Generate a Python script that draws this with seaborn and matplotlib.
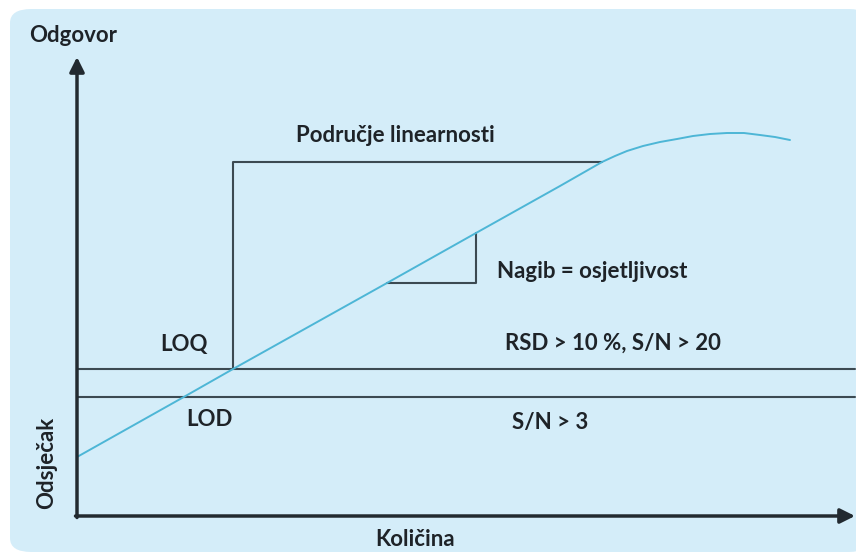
import matplotlib
matplotlib.use("Agg")
import matplotlib.pyplot as plt
from matplotlib.patches import FancyBboxPatch
import seaborn as sns

# curve (kolicina vs odgovor)
kolicina = [0, 105, 156, 310, 399, 483, 525, 538, 550, 566, 583, 600, 616, 633, 650, 667, 683, 698, 713]
odgovor = [59, 118, 147, 233, 283, 330, 354, 360, 365, 370, 374, 377, 380, 382, 383, 383, 381, 379, 376]

loq_level = 147
lod_level = 119
linear_top = 354
linear_start = 156
linear_end = 525
slope_x = [310, 399]
slope_y = [233, 283]

x_max = 778
y_max = 459

bg = "#d4edf9"
curve_col = "#4db6d6"
line_col = "#3c4a52"
axis_col = "#222a30"

sns.set_style("white")
plt.rcParams["font.family"] = ["Lato", "DejaVu Sans"]

fig = plt.figure(figsize=(8.56, 5.57), dpi=100)
fig.patch.set_facecolor("white")

ax = fig.add_axes([0, 0, 1, 1])
ax.set_facecolor("none")
ax.set_xlim(-77, 779)
ax.set_ylim(-41, 516)
ax.axis("off")

# rounded light blue background
box = FancyBboxPatch((10 / 856, 5 / 557), 860 / 856, 543 / 557,
                     boxstyle="round,pad=0,rounding_size=0.025",
                     transform=fig.transFigure, facecolor=bg, edgecolor="none",
                     zorder=0, clip_on=False)
ax.add_patch(box)

# horizontal LOQ / LOD lines
ax.plot([0, x_max], [loq_level, loq_level], color=line_col, lw=1.5, zorder=2)
ax.plot([0, x_max], [lod_level, lod_level], color=line_col, lw=1.5, zorder=2)
# linear range bracket
ax.plot([linear_start, linear_start, linear_end], [loq_level, linear_top, linear_top],
        color=line_col, lw=1.5, zorder=2)
# slope triangle
ax.plot([slope_x[0], slope_x[1], slope_x[1]], [slope_y[0], slope_y[0], slope_y[1]],
        color=line_col, lw=1.5, zorder=2)

sns.lineplot(x=kolicina, y=odgovor, ax=ax, color=curve_col, lw=1.4, zorder=3)

# axes with arrows
arrow = dict(arrowstyle="-|>", color=axis_col, lw=2.5, mutation_scale=22, shrinkA=0, shrinkB=0)
ax.annotate("", xy=(0, y_max), xytext=(0, -1.5), arrowprops=arrow, zorder=4)
ax.annotate("", xy=(x_max, 0), xytext=(-1.5, 0), arrowprops=arrow, zorder=4)

tkw = dict(color="#1e2328", fontsize=16, fontweight="bold", zorder=5)
ax.text(-4, 481, "Odgovor", ha="center", va="center", **tkw)
ax.text(338, -24, "Količina", ha="center", va="center", **tkw)
ax.text(-30, 53, "Odsječak", ha="center", va="center", rotation=90, **tkw)
ax.text(318, 381, "Područje linearnosti", ha="center", va="center", **tkw)
ax.text(420, 244, "Nagib = osjetljivost", ha="left", va="center", **tkw)
ax.text(107, 171, "LOQ", ha="center", va="center", **tkw)
ax.text(132, 97, "LOD", ha="center", va="center", **tkw)
ax.text(536, 173, "RSD > 10 %, S/N > 20", ha="center", va="center", **tkw)
ax.text(435, 93, "S/N > 3", ha="left", va="center", **tkw)

fig.savefig("out.png", dpi=100)
